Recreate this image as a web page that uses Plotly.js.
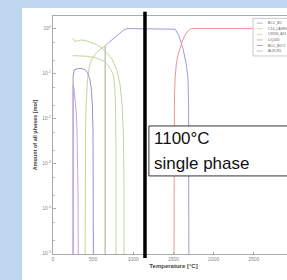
<!DOCTYPE html>
<html>
<head>
<meta charset="utf-8">
<script src="https://cdn.plot.ly/plotly-3.0.1.min.js"></script>
<style>
  html, body { margin:0; padding:0; overflow:hidden; background:#bed7ee; }
  #wrap { position:absolute; left:0; top:0; width:287px; height:280px; overflow:hidden; background:#bed7ee; }
  #chart { position:absolute; left:22px; top:8px; width:300px; height:272px; }
</style>
</head>
<body>
<div id="wrap"><div id="chart"></div></div>
<script>
// ---- data (temperature in °C, amount in mol) ----
const phaseNames = ["BCC_B2", "C14_LAVES", "CR3SI_A15", "LIQUID", "BCC_B2#2", "AL8CR5"];

const tBcc = [650, 650.1, 700, 775, 830, 880, 920, 1000, 1300, 1490, 1520, 1570, 1620, 1660, 1680, 1688, 1692];
const vBcc = [1e-6, 0.41, 0.5, 0.65, 0.8, 0.93, 1.0, 1.0, 1.0, 1.0, 0.97, 0.68, 0.35, 0.155, 0.08, 0.02, 1e-6];

const tLaves = [245, 275, 360, 440, 545, 610, 670, 735, 795, 835, 860, 875, 882, 886];
const vLaves = [0.61, 0.52, 0.56, 0.52, 0.44, 0.37, 0.29, 0.21, 0.117, 0.056, 0.02, 0.005, 0.0008, 1e-6];

const tA15 = [245, 400, 525, 630, 690, 740, 755, 770, 778, 783, 786];
const vA15 = [0.25, 0.245, 0.227, 0.19, 0.15, 0.105, 0.085, 0.045, 0.018, 0.003, 1e-6];

const tA15b = [398, 401, 405, 412, 420, 430, 441, 460, 484, 515, 546, 609, 650, 650.1];
const vA15b = [1e-6, 0.0008, 0.005, 0.02, 0.045, 0.075, 0.108, 0.16, 0.21, 0.26, 0.3, 0.37, 0.42, 1e-6];

const tLiquid = [1505, 1508, 1512, 1520, 1534, 1555, 1575, 1605, 1637, 1670, 1700, 1725, 3000];
const vLiquid = [1e-6, 0.005, 0.03, 0.08, 0.155, 0.26, 0.35, 0.5, 0.68, 0.85, 0.95, 1.0, 1.0];

const tBcc2 = [250, 250.1, 262, 300, 350, 400, 430, 455, 475, 490, 498, 502, 504];
const vBcc2 = [1e-6, 0.085, 0.12, 0.128, 0.13, 0.122, 0.105, 0.08, 0.05, 0.02, 0.005, 0.0005, 1e-6];

const tAlcr = [250, 250.1, 262, 275, 288, 298, 306, 312, 316];
const vAlcr = [1e-6, 0.055, 0.045, 0.03, 0.015, 0.006, 0.0015, 0.0002, 1e-6];

const xTickVals = [0, 500, 1000, 1500, 2000, 2500];
const yTickVals = [1, 0.1, 0.01, 0.001, 0.0001, 0.00001];
const yTickText = ["10<sup>0</sup>", "10<sup>-1</sup>", "10<sup>-2</sup>", "10<sup>-3</sup>", "10<sup>-4</sup>", "10<sup>-5</sup>"];

const markTemp = 1145;
const boxLines = ["1100°C", "single phase"];

// ---- styles ----
const colors = ["#9c9cdb", "#b9d89f", "#c6d49c", "#f09494", "#9a8ed2", "#c3a6dc"];

const series = [
  {x: tBcc, y: vBcc, c: 0, n: 0},
  {x: tLaves, y: vLaves, c: 1, n: 1},
  {x: tA15, y: vA15, c: 2, n: 2},
  {x: tA15b, y: vA15b, c: 2, n: 2},
  {x: tLiquid, y: vLiquid, c: 3, n: 3},
  {x: tBcc2, y: vBcc2, c: 4, n: 4},
  {x: tAlcr, y: vAlcr, c: 5, n: 5}
];

const traces = series.map(s => ({
  type: "scatter", mode: "lines", x: s.x, y: s.y, name: phaseNames[s.n],
  line: {color: colors[s.c], width: 1}, showlegend: false, hoverinfo: "skip"
}));

const shapes = [
  {type: "line", xref: "x", yref: "paper", x0: markTemp, x1: markTemp, y0: -0.017, y1: 1.018,
   line: {color: "#000", width: 3.5}, layer: "above"},
  {type: "rect", xref: "paper", yref: "paper", x0: 0.398, x1: 1.2, y0: 0.328, y1: 0.538,
   fillcolor: "#fff", line: {color: "#333", width: 1}, layer: "above"},
  {type: "rect", xref: "paper", yref: "paper", x0: 0.83, x1: 0.99, y0: 0.832, y1: 0.99,
   fillcolor: "#fff", line: {color: "#bbb", width: 0.8}, layer: "above"}
];
const annotations = [
  {xref: "paper", yref: "paper", x: 0.411, y: 0.487, xanchor: "left", yanchor: "middle", showarrow: false,
   text: boxLines[0], font: {family: "Liberation Sans, Arial, sans-serif", size: 17, color: "#111"}},
  {xref: "paper", yref: "paper", x: 0.411, y: 0.382, xanchor: "left", yanchor: "middle", showarrow: false,
   text: boxLines[1], font: {family: "Liberation Sans, Arial, sans-serif", size: 17, color: "#111"}}
];
phaseNames.forEach((nm, i) => {
  const yy = 0.97 - i * 0.0235;
  shapes.push({type: "line", xref: "paper", yref: "paper", x0: 0.845, x1: 0.87, y0: yy, y1: yy,
    line: {color: colors[i], width: 0.8}, layer: "above"});
  annotations.push({xref: "paper", yref: "paper", x: 0.882, y: yy, xanchor: "left", yanchor: "middle",
    showarrow: false, text: nm, font: {family: "Liberation Sans, Arial", size: 3.5, color: "#666"}});
});

const layout = {
  width: 300, height: 272,
  margin: {l: 31, r: 28, t: 8, b: 26, pad: 0},
  paper_bgcolor: "#ffffff", plot_bgcolor: "#ffffff",
  showlegend: false,
  xaxis: {
    range: [0, 3000], tickvals: xTickVals, showgrid: false, zeroline: false,
    showline: true, mirror: true, linecolor: "#aaa", linewidth: 1,
    ticks: "inside", ticklen: 2, tickcolor: "#aaa",
    tickfont: {family: "Liberation Sans, Arial", size: 5, color: "#888"},
    title: {text: "Temperature [°C]", standoff: 2,
            font: {family: "Liberation Sans, Arial", size: 6, color: "#444", weight: "bold"}}
  },
  yaxis: {
    type: "log", range: [-5.01, 0.28], tickvals: yTickVals, ticktext: yTickText,
    showgrid: false, zeroline: false,
    showline: true, mirror: true, linecolor: "#aaa", linewidth: 1,
    ticks: "inside", ticklen: 3, tickcolor: "#aaa",
    minor: {ticks: "inside", ticklen: 1.5, tickcolor: "#bbb", showgrid: false},
    tickfont: {family: "Liberation Sans, Arial", size: 5, color: "#888"},
    title: {text: "Amount of all phases [mol]", standoff: 4,
            font: {family: "Liberation Sans, Arial", size: 5.5, color: "#444", weight: "bold"}}
  },
  shapes: shapes,
  annotations: annotations
};

Plotly.newPlot("chart", traces, layout, {staticPlot: true, displayModeBar: false});
</script>
</body>
</html>
